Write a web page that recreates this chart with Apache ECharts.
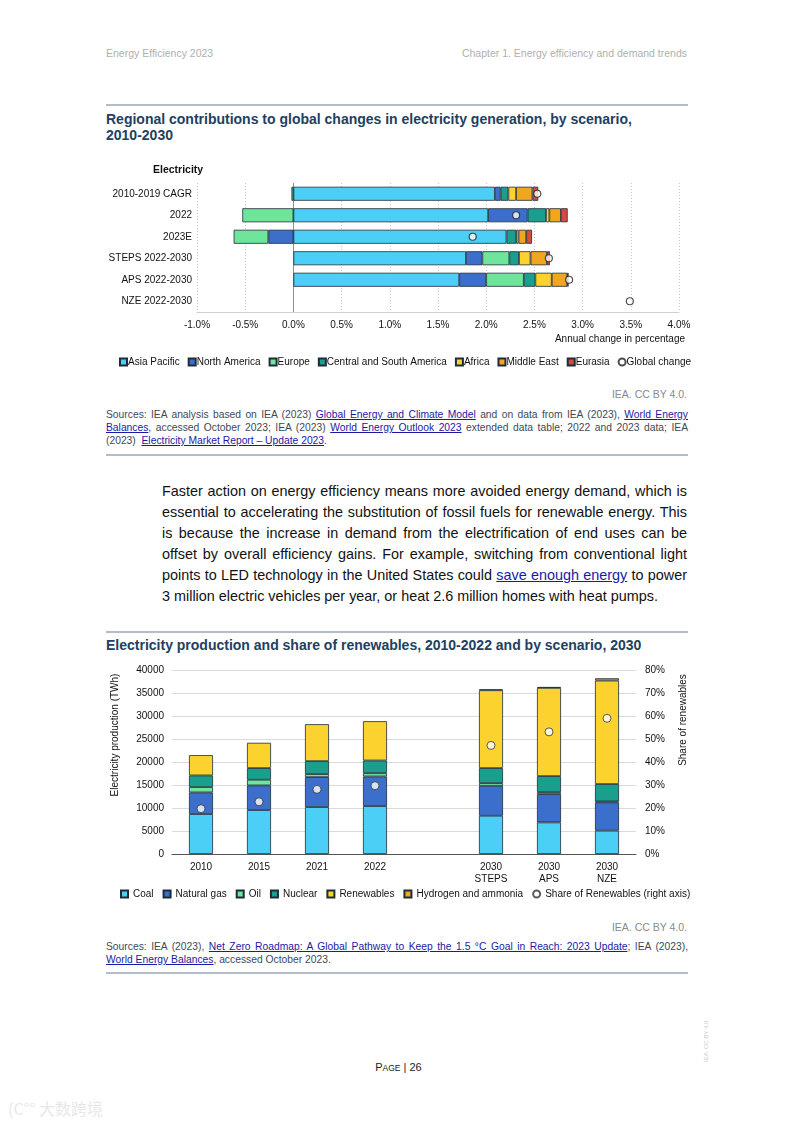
<!DOCTYPE html>
<html>
<head>
<meta charset="utf-8">
<script src="https://cdn.jsdelivr.net/npm/echarts@6/dist/echarts.min.js"></script>
<style>
  html, body { margin:0; padding:0; background:#fff; }
  body { width:793px; height:1122px; position:relative; overflow:hidden; font-family:"Liberation Sans", Arial, sans-serif; }
  .abs { position:absolute; }
  .hdr { font-size:10.5px; color:#b0b0b0; }
  .rule { position:absolute; left:106px; width:582px; height:2px; background:#b3bcc8; }
  .title { position:absolute; left:106px; width:590px; font-weight:bold; font-size:14px; line-height:16px; color:#22405f; }
  .lic { position:absolute; right:106px; font-size:10.5px; color:#8a8a8a; }
  .src { position:absolute; left:106px; width:582px; font-size:10.3px; line-height:13px; color:#3c4a5a; text-align:justify; }
  .src a, .para a { color:#1a1aa6; text-decoration:underline; }
  .para { position:absolute; left:162px; width:525px; font-size:14.4px; line-height:21px; color:#111; text-align:justify; }
</style>
</head>
<body>
<div class="abs hdr" style="left:106px; top:47px;">Energy Efficiency 2023</div>
<div class="abs hdr" style="right:106px; top:47px;">Chapter 1. Energy efficiency and demand trends</div>

<div class="rule" style="top:104px;"></div>
<div class="title" style="top:111px;">Regional contributions to global changes in electricity generation, by scenario,<br>2010-2030</div>
<div id="c1" class="abs" style="left:100px; top:158px; width:600px; height:215px;"></div>
<div class="lic" style="top:388px;">IEA. CC BY 4.0.</div>
<div class="src" style="top:408px;">Sources: IEA analysis based on IEA (2023) <a>Global Energy and Climate Model</a> and on data from IEA (2023), <a>World Energy Balances</a>, accessed October 2023; IEA (2023) <a>World Energy Outlook 2023</a> extended data table; 2022 and 2023 data; IEA (2023)&nbsp; <a>Electricity Market Report – Update 2023</a>.</div>
<div class="rule" style="top:454px;"></div>

<div class="para" style="top:481px;">Faster action on energy efficiency means more avoided energy demand, which is essential to accelerating the substitution of fossil fuels for renewable energy. This is because the increase in demand from the electrification of end uses can be offset by overall efficiency gains. For example, switching from conventional light points to LED technology in the United States could <a>save enough energy</a> to power 3 million electric vehicles per year, or heat 2.6 million homes with heat pumps.</div>

<div class="rule" style="top:631px;"></div>
<div class="title" style="top:637px;">Electricity production and share of renewables, 2010-2022 and by scenario, 2030</div>
<div id="c2" class="abs" style="left:100px; top:660px; width:600px; height:245px;"></div>
<div class="lic" style="top:921px;">IEA. CC BY 4.0.</div>
<div class="src" style="top:940px;">Sources: IEA (2023), <a>Net Zero Roadmap: A Global Pathway to Keep the 1.5 °C Goal in Reach: 2023 Update</a>; IEA (2023), <a style="white-space:nowrap;">World Energy Balances</a>, accessed October 2023.</div>
<div class="rule" style="top:972px;"></div>

<div class="abs" style="left:0; width:793px; top:1061px; text-align:center; font-size:11px; color:#222; padding-left:2px;">P<span style="font-size:8.5px;">AGE</span> | 26</div>
<div class="abs" style="left:703px; top:1062px; font-size:6px; color:#c8c8c8; transform:rotate(-90deg); transform-origin:left top; white-space:nowrap;">IEA. CC BY 4.0.</div>
<div class="abs" style="left:8px; top:1096px; font-size:16px; color:#e8e8e8; font-family:'Noto Sans CJK SC'; white-space:nowrap;">(C°° 大数跨境</div>

<script>
// ---------- Chart 1 data ----------
const scenarioCats = ['2010-2019 CAGR', '2022', '2023E', 'STEPS 2022-2030', 'APS 2022-2030', 'NZE 2022-2030'];
const regionNames = ['Asia Pacific', 'North America', 'Europe', 'Central and South America', 'Africa', 'Middle East', 'Eurasia'];
const asiaPacific   = [2.09, 2.02, 2.21, 1.79, 1.72, null];
const northAmerica  = [0.06, 0.41, -0.26, 0.17, 0.28, null];
const europe        = [-0.02, -0.53, -0.36, 0.28, 0.39, null];
const centralSouthAmerica = [0.08, 0.19, 0.10, 0.10, 0.12, null];
const africa        = [0.08, 0.035, 0.025, 0.12, 0.17, null];
const middleEast    = [0.17, 0.12, 0.08, 0.17, 0.16, null];
const eurasia       = [0.06, 0.07, 0.06, 0.03, 0.015, null];
const globalChange  = [2.53, 2.31, 1.86, 2.65, 2.86, 3.49];
const xTicks1 = { min: -1, max: 4, interval: 0.5 };

// ---------- Chart 2 data ----------
const yearCats = ['2010', '2015', '2021', '2022', '', '2030\nSTEPS', '2030\nAPS', '2030\nNZE'];
const coal        = [8680, 9550, 10200, 10420, null, 8320, 6870, 5070];
const naturalGas  = [4710, 5360, 6520, 6440, null, 6510, 6150, 6150];
const oil         = [1160, 1230, 650, 720, null, 580, 440, 210];
const nuclear     = [2530, 2530, 2820, 2750, null, 3260, 3470, 3770];
const renewables  = [4410, 5500, 8030, 8540, null, 16930, 19180, 22500];
const hydrogen    = [null, null, null, null, null, 200, 200, 500];
const shareRenew  = [19.7, 22.7, 28.1, 29.7, null, 47.2, 53.1, 59.0];

const FONT = 'Liberation Sans';
const C = {
  cyan: '#4bcff6', blue: '#3c6fcb', green: '#6fe59b', teal: '#1a9f8e',
  yellow: '#fcd22f', orange: '#f1a71d', red: '#d84a3c'
};
const BORDER = '#1e2b38';

// ---------- Chart 1 ----------
const c1 = echarts.init(document.getElementById('c1'));
const regionData = [asiaPacific, northAmerica, europe, centralSouthAmerica, africa, middleEast, eurasia];
const regionColors = [C.cyan, C.blue, C.green, C.teal, C.yellow, C.orange, C.red];
const s1 = regionNames.map((n, i) => ({
  name: n, type: 'bar', stack: 'r', barWidth: 14,
  itemStyle: { color: regionColors[i], borderColor: BORDER, borderWidth: 0.8 },
  data: regionData[i]
}));
s1[0].markLine = {
  silent: true, symbol: 'none', label: { show: false }, z: 1,
  lineStyle: { color: '#8f8f8f', type: 'solid', width: 1 },
  data: [{ xAxis: 0 }]
};
s1.push({
  name: 'Global change', type: 'scatter', symbol: 'circle', symbolSize: 7, z: 10,
  itemStyle: { color: '#fff', borderColor: '#222', borderWidth: 1.2 },
  data: globalChange.map((v, i) => [v, scenarioCats[i]])
});
c1.setOption({
  animation: false,
  textStyle: { fontFamily: FONT },
  grid: { left: 97, right: 21, top: 25, bottom: 61, outerBoundsMode: 'none', containLabel: false },
  graphic: [
    { type: 'text', left: 53, top: 7, style: { text: 'Electricity', font: 'bold 10.5px "Liberation Sans"', fill: '#111' } },
    { type: 'text', right: 15, top: 176, style: { text: 'Annual change in percentage', font: '10px "Liberation Sans"', fill: '#111' } }
  ],
  legend: {
    left: 14, right: 0, top: 194, itemWidth: 7, itemHeight: 7, itemGap: 8,
    textStyle: { fontSize: 10, color: '#111', fontFamily: FONT, padding: [0, 0, 0, -4] },
    data: regionNames.map(n => ({ name: n, icon: 'rect' })).concat([{ name: 'Global change', icon: 'circle' }])
  },
  xAxis: {
    type: 'value', min: xTicks1.min, max: xTicks1.max, interval: xTicks1.interval,
    axisLine: { show: true, lineStyle: { color: '#d0d0d0' } },
    axisTick: { show: false },
    axisLabel: { fontSize: 10, color: '#111', margin: 8, formatter: v => v.toFixed(1) + '%' },
    splitLine: { show: true, lineStyle: { color: '#c8c8c8', type: [1, 2], width: 1 } }
  },
  yAxis: {
    type: 'category', data: scenarioCats, inverse: true,
    axisLine: { show: false },
    axisTick: { show: false },
    axisLabel: { fontSize: 10, color: '#111', margin: 5 }
  },
  series: s1
});

// ---------- Chart 2 ----------
const c2 = echarts.init(document.getElementById('c2'));
const fuelNames = ['Coal', 'Natural gas', 'Oil', 'Nuclear', 'Renewables', 'Hydrogen and ammonia'];
const fuelData = [coal, naturalGas, oil, nuclear, renewables, hydrogen];
const fuelColors = [C.cyan, C.blue, C.green, C.teal, C.yellow, C.orange];
const s2 = fuelNames.map((n, i) => ({
  name: n, type: 'bar', stack: 'f', barWidth: 24,
  itemStyle: { color: fuelColors[i], borderColor: BORDER, borderWidth: 0.8 },
  data: fuelData[i]
}));
s2.push({
  name: 'Share of Renewables (right axis)', type: 'scatter', yAxisIndex: 1, symbolSize: 8, z: 10,
  itemStyle: { color: '#fff', borderColor: '#333', borderWidth: 1 },
  data: shareRenew
});
c2.setOption({
  animation: false,
  textStyle: { fontFamily: FONT },
  grid: { left: 72, right: 64, top: 10, bottom: 51, outerBoundsMode: 'none', containLabel: false },
  graphic: [
    { type: 'text', x: 15, y: 75, rotation: Math.PI / 2,
      style: { text: 'Electricity production (TWh)', font: '10px "Liberation Sans"', fill: '#111', align: 'center', verticalAlign: 'middle' } },
    { type: 'text', x: 583, y: 60, rotation: Math.PI / 2,
      style: { text: 'Share of renewables', font: '10px "Liberation Sans"', fill: '#111', align: 'center', verticalAlign: 'middle' } }
  ],
  legend: {
    left: 15, top: 224, itemWidth: 7, itemHeight: 7, itemGap: 9,
    textStyle: { fontSize: 10, color: '#111', fontFamily: FONT },
    data: fuelNames.map(n => ({ name: n, icon: 'rect' })).concat([{ name: 'Share of Renewables (right axis)', icon: 'circle' }])
  },
  xAxis: {
    type: 'category', data: yearCats,
    axisLine: { lineStyle: { color: '#555' } },
    axisTick: { show: false },
    axisLabel: { fontSize: 10, color: '#111', lineHeight: 12, margin: 7, interval: 0 }
  },
  yAxis: [
    {
      type: 'value', min: 0, max: 40000, interval: 5000,
      axisLine: { show: false }, axisTick: { show: false },
      axisLabel: { fontSize: 10, color: '#111', margin: 8, formatter: v => String(v) },
      splitLine: { lineStyle: { color: '#dadada' } }
    },
    {
      type: 'value', min: 0, max: 80, interval: 10,
      axisLine: { show: false }, axisTick: { show: false },
      axisLabel: { fontSize: 10, color: '#111', margin: 9, formatter: v => v + '%' },
      splitLine: { show: false }
    }
  ],
  series: s2
});
</script>
</body>
</html>
